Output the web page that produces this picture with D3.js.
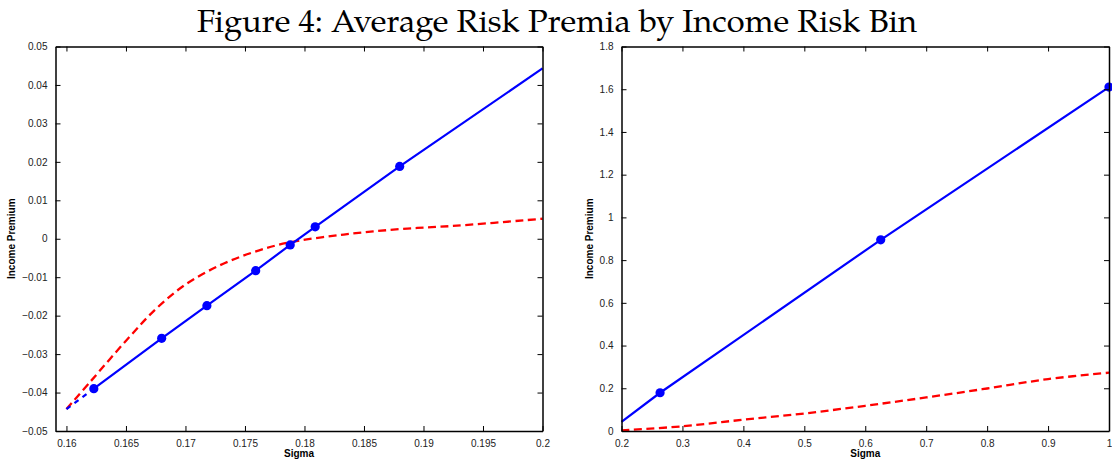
<!DOCTYPE html>
<html lang="en">
<head>
<meta charset="UTF-8" />
<title>Figure 4: Average Risk Premia by Income Risk Bin</title>
<script src="https://d3js.org/d3.v7.min.js"></script>
<style>
  body { margin: 0; background: #fff; }
  text { font-family: "Liberation Sans", Arial, sans-serif; }
</style>
</head>
<body>
<script>
// left panel: bins, markers on the blue line
var binSigma = [0.1623, 0.1680, 0.1718, 0.1759, 0.1788, 0.1809, 0.1880];
var binPremium = [-0.0390, -0.0259, -0.0174, -0.0083, -0.0016, 0.0031, 0.0188];
// blue fitted line ends
var blueStartL = [0.16, -0.0443];
var blueEndL = [0.2, 0.0443];
// red dashed curve, left panel
var redSigmaL = [0.16, 0.162, 0.1651, 0.1676, 0.1701, 0.1729, 0.1757, 0.1785, 0.1833, 0.188, 0.1928, 0.2];
var redPremL = [-0.0443, -0.0372, -0.0262, -0.0180, -0.0117, -0.0069, -0.0035, -0.0011, 0.0011, 0.0025, 0.0034, 0.0052];
var xTicksL = d3.range(0, 9).map(function (i) { return 0.16 + i * 0.005; });
var yTicksL = d3.range(0, 11).map(function (i) { return -0.05 + i * 0.01; });

// right panel
var binSigmaR = [0.2633, 0.6254, 1.0];
var binPremR = [0.179, 0.895, 1.610];
var blueStartR = [0.2, 0.043];
var redSigmaR = [0.2, 0.3, 0.4, 0.5, 0.6, 0.7, 0.8, 0.9, 1.0];
var redPremR = [0.003, 0.022, 0.053, 0.082, 0.118, 0.157, 0.199, 0.243, 0.273];
var xTicksR = [0.2, 0.3, 0.4, 0.5, 0.6, 0.7, 0.8, 0.9, 1];
var yTicksR = [0, 0.2, 0.4, 0.6, 0.8, 1, 1.2, 1.4, 1.6, 1.8];

var W = 1112, H = 464;
var svg = d3.select("body").append("svg").attr("width", W).attr("height", H);

svg.append("text")
  .attr("x", 557).attr("y", 32)
  .attr("text-anchor", "middle")
  .style("font-family", "'TeX Gyre Pagella','Palatino Linotype','Liberation Serif',serif")
  .attr("font-size", "32px")
  .attr("textLength", 720)
  .attr("lengthAdjust", "spacingAndGlyphs")
  .text("Figure 4: Average Risk Premia by Income Risk Bin");

function fmt(v) {
  var s = d3.format("")(+v.toFixed(3));
  return s.replace("-", "\u2212");
}

function panel(opt) {
  var x = d3.scaleLinear().domain(opt.xd).range([opt.left, opt.right]);
  var y = d3.scaleLinear().domain(opt.yd).range([opt.bottom, opt.top]);
  var g = svg.append("g");
  var line = d3.line().x(function (d) { return x(d[0]); }).y(function (d) { return y(d[1]); });

  // red dashed curve
  g.append("path")
    .datum(opt.red)
    .attr("fill", "none").attr("stroke", "#ff0000").attr("stroke-width", 2.3)
    .attr("stroke-dasharray", "8,4.5")
    .attr("d", line.curve(d3.curveCatmullRom.alpha(0.5)));
  line.curve(d3.curveLinear);

  // blue dashed lead-in
  if (opt.blueLead) {
    g.append("path")
      .datum(opt.blueLead)
      .attr("fill", "none").attr("stroke", "#0000ff").attr("stroke-width", 2.3)
      .attr("stroke-dasharray", "5,5")
      .attr("d", line);
  }
  g.append("path")
    .datum(opt.blue)
    .attr("fill", "none").attr("stroke", "#0000ff").attr("stroke-width", 2.2)
    .attr("d", line);
  g.selectAll("circle").data(opt.marks).enter().append("circle")
    .attr("cx", function (d) { return x(d[0]); })
    .attr("cy", function (d) { return y(d[1]); })
    .attr("r", 4.6).attr("fill", "#0000ff");

  // box axes with inward ticks
  var tl = 5;
  var ax = svg.append("g").attr("font-size", "10px").attr("fill", "#222");
  ax.append("g").attr("transform", "translate(0," + opt.bottom + ")")
    .call(d3.axisBottom(x).tickValues(opt.xt).tickSizeInner(-tl).tickSizeOuter(0).tickPadding(9).tickFormat(fmt));
  ax.append("g").attr("transform", "translate(0," + opt.top + ")")
    .call(d3.axisTop(x).tickValues(opt.xt).tickSizeInner(-tl).tickSizeOuter(0).tickFormat(""));
  ax.append("g").attr("transform", "translate(" + opt.left + ",0)")
    .call(d3.axisLeft(y).tickValues(opt.yt).tickSizeInner(-tl).tickSizeOuter(0).tickPadding(8).tickFormat(fmt));
  ax.append("g").attr("transform", "translate(" + opt.right + ",0)")
    .call(d3.axisRight(y).tickValues(opt.yt).tickSizeInner(-tl).tickSizeOuter(0).tickFormat(""));
  ax.selectAll(".domain").attr("stroke", "#000").attr("stroke-width", 1.5);
  ax.selectAll(".tick line").attr("stroke", "#000");
  ax.selectAll(".tick text").attr("fill", "#222").style("font-family", "'Liberation Sans',Arial,sans-serif").attr("font-size", "10px");

  svg.append("text")
    .attr("x", (opt.left + opt.right) / 2).attr("y", opt.bottom + 26)
    .attr("text-anchor", "middle").attr("font-size", "10px").attr("font-weight", "bold")
    .text("Sigma");
  svg.append("text")
    .attr("transform", "translate(" + opt.ylabX + "," + ((opt.top + opt.bottom) / 2) + ") rotate(-90)")
    .attr("text-anchor", "middle").attr("font-size", "10px").attr("font-weight", "bold")
    .text("Income Premium");
}

var leftMarks = binSigma.map(function (s, i) { return [s, binPremium[i]]; });
panel({
  xd: [0.15908, 0.2], yd: [-0.05, 0.05],
  left: 55.5, right: 542.5, top: 46.5, bottom: 431,
  xt: xTicksL, yt: yTicksL,
  red: redSigmaL.map(function (s, i) { return [s, redPremL[i]]; }),
  blueLead: [blueStartL, leftMarks[0]],
  blue: [leftMarks[0]].concat(leftMarks.slice(1), [blueEndL]),
  marks: leftMarks,
  ylabX: 15
});

var rightMarks = binSigmaR.map(function (s, i) { return [s, binPremR[i]]; });
panel({
  xd: [0.2, 1], yd: [0, 1.8],
  left: 621.5, right: 1109, top: 46.5, bottom: 431,
  xt: xTicksR, yt: yTicksR,
  red: redSigmaR.map(function (s, i) { return [s, redPremR[i]]; }),
  blueLead: null,
  blue: [blueStartR].concat(rightMarks),
  marks: rightMarks,
  ylabX: 593
});
</script>
</body>
</html>
